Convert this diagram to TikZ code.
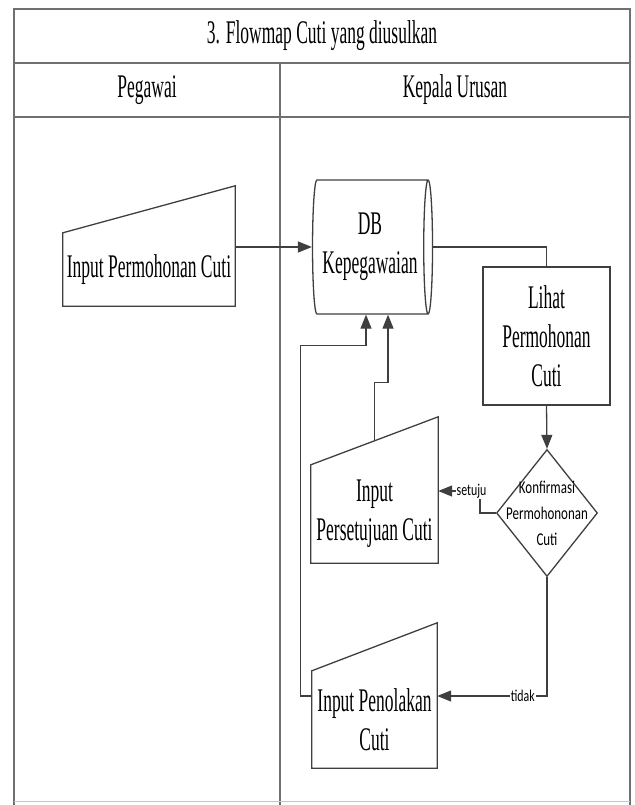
\documentclass[tikz,border=0pt]{standalone}
\usepackage{fontspec}
\setmainfont{Liberation Serif}
\newfontfamily\schmal[FakeStretch=0.53]{Liberation Serif}
\newfontfamily\klein[FakeStretch=0.72]{Carlito}
\usetikzlibrary{shapes.geometric,arrows.meta,calc}
\definecolor{liniengrau}{HTML}{3F3F3F}
\definecolor{rahmengrau}{HTML}{707070}

\begin{document}
\begin{tikzpicture}[x=1pt, y=-1pt, color = {liniengrau},
    rahmen/.style = {draw=rahmengrau, line width=2.4pt},
    txt/.style = {font=\schmal\fontsize{33}{39}\selectfont, align=center, text=black, inner sep=0pt},
    kasten/.style = {draw, line width=1.3pt},
    verb/.style = {draw, line width=1.3pt},
    pfeil/.style = {verb, -{Triangle[length=14pt,width=11pt]}},
    marke/.style = {font=\klein\fontsize{16.5}{18}\selectfont, fill=white, inner sep=1pt, text=black}]
    \useasboundingbox (0,0) rectangle (634,805);
    \draw[rahmen] (14,805) -- (14,9) -- (630,9) -- (630,805);
    \draw[rahmen] (14,63) -- (630,63);
    \draw[rahmen] (14,117) -- (630,117);
    \draw[rahmen] (280,63) -- (280,805);
    \draw[draw=rahmengrau!40, line width=1pt] (14,801) -- (630,801);
    \node[txt] (titel) at (322,36) {3. Flowmap Cuti yang diusulkan};
    \node[txt] (pegawai) at (147,90) {Pegawai};
    \node[txt] (kaur) at (455,90) {Kepala Urusan};

    \node[txt, minimum width=172, minimum height=73] (permohonan) at (149,269.5) {Input Permohonan Cuti};
    \draw[kasten] (permohonan.south west) -- (permohonan.south east) -- ($(permohonan.north east)+(0,-47)$) -- (permohonan.north west) -- cycle;
    \node[txt, cylinder, kasten, aspect=0.13, minimum width=134, minimum height=120] (db) at (370,247) {DB\\Kepegawaian};
    \node[txt, kasten, minimum width=127, minimum height=138] (lihat) at (546.5,336) {Lihat\\Permohonan\\Cuti};
    \node[diamond, kasten, minimum width=101, minimum height=127, inner sep=0pt] (konfirm) at (547,513) {};
    \node[font=\klein\fontsize{18}{26}\selectfont, align=center, text=black, inner sep=0pt] (konfirmtxt) at (konfirm) {Konfirmasi\\Permohononan\\Cuti};
    \node[txt, minimum width=127, minimum height=98] (setuju) at (374.5,514) {Input\\Persetujuan Cuti};
    \draw[kasten] (setuju.south west) -- (setuju.south east) -- ($(setuju.north east)+(0,-48)$) -- (setuju.north west) -- cycle;
    \node[txt, minimum width=125, minimum height=97] (tolak) at (374.5,719.5) {Input Penolakan\\Cuti};
    \draw[kasten] (tolak.south west) -- (tolak.south east) -- ($(tolak.north east)+(0,-48)$) -- (tolak.north west) -- cycle;

    \coordinate (setujuein) at ($(setuju.east)+(0,-23)$);
    \coordinate (tolakein) at ($(tolak.east)+(0,-23.5)$);
    \coordinate (setujuoben) at ($(setuju.north)+(0,-24)$);
    \coordinate (tolakaus) at (tolak.west |- tolakein);
    \coordinate (dbrechts) at ($(db.south)+(18,0)$);
    \coordinate (dblinks) at ($(db.south)+(-4,0)$);

    \draw[pfeil] (permohonan.east |- db.west) -- (db.west);
    \draw[verb] (db.east) -| (lihat.north);
    \draw[pfeil] (lihat.south) -- (konfirm.north);
    \draw[pfeil] (konfirm.west) -- ++(-16,0) |- node[marke, pos=0.6] {setuju} (setujuein);
    \draw[pfeil] (konfirm.south) |- node[marke, pos=0.61] {tidak} (tolakein);
    \draw[pfeil] (setujuoben) -- ++(0,-58) -| (dbrechts);
    \draw[pfeil] (tolakaus) -- ++(-11,0) |- ($(dblinks)+(0,31)$) -- (dblinks);
\end{tikzpicture}
\end{document}
